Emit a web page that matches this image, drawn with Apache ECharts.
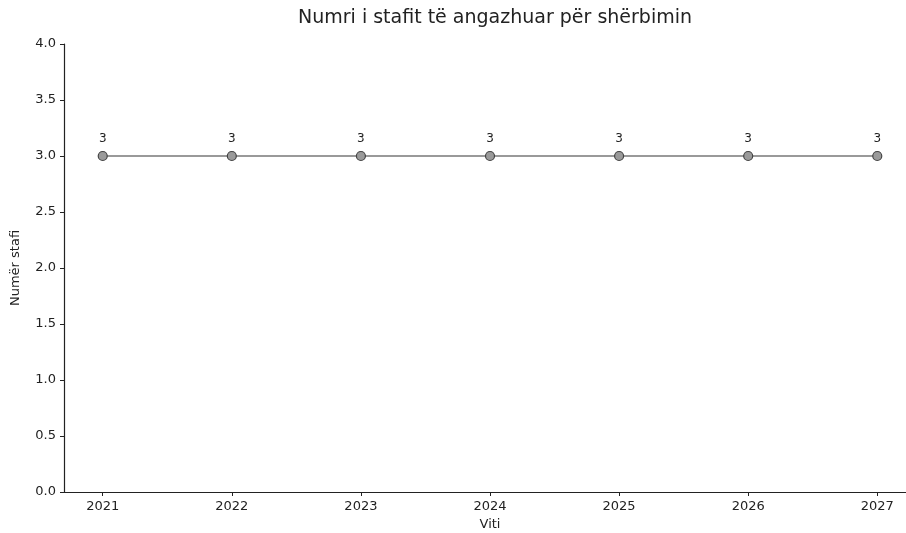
<!DOCTYPE html>
<html>
<head>
<meta charset="utf-8">
<script src="https://cdn.jsdelivr.net/npm/echarts@6/dist/echarts.min.js"></script>
<style>
  html, body { margin: 0; padding: 0; background: #fff; }
  #chart { width: 906px; height: 533px; }
</style>
</head>
<body>
<div id="chart"></div>
<script>
// te dhenat
const years = [2021, 2022, 2023, 2024, 2025, 2026, 2027]
const staff = [3, 3, 3, 3, 3, 3, 3]
const yTicks = [0, 0.5, 1, 1.5, 2, 2.5, 3, 3.5, 4]

const chart = echarts.init(document.getElementById('chart'))
const font = 'DejaVu Sans'

const option = {
    animation: false,
    backgroundColor: '#fff',
    title: {
        text: 'Numri i stafit të angazhuar për shërbimin',
        left: 490,
        textAlign: 'center',
        top: 4,
        textStyle: { fontFamily: font, fontSize: 19, fontWeight: 'normal', color: '#222' }
    },
    grid: { left: 64, right: -10, top: 44, bottom: 41, outerBoundsMode: 'none' },
    xAxis: {
        type: 'value',
        min: 2020.7,
        max: 2027.3,
        name: 'Viti',
        nameLocation: 'middle',
        nameGap: 25,
        nameTextStyle: { fontFamily: font, fontSize: 13, color: '#222' },
        axisLine: { lineStyle: { color: '#222', width: 1.2 } },
        axisTick: { show: true, length: 4, customValues: years, lineStyle: { color: '#222' } },
        axisLabel: {
            customValues: years, fontFamily: font, fontSize: 13, color: '#222', margin: 8,
            formatter: v => String(v)
        },
        splitLine: { show: false }
    },
    yAxis: {
        type: 'value',
        min: 0,
        max: 4,
        interval: 0.5,
        name: 'Numër stafi',
        nameLocation: 'middle',
        nameGap: 42,
        nameTextStyle: { fontFamily: font, fontSize: 13, color: '#222' },
        axisLine: { show: true, lineStyle: { color: '#222', width: 1.2 } },
        axisTick: { show: true, length: 4, lineStyle: { color: '#222' } },
        axisLabel: {
            customValues: yTicks,
            fontFamily: font, fontSize: 13, color: '#222', margin: 8,
            formatter: v => v.toFixed(1)
        },
        splitLine: { show: false }
    },
    series: [
        {
            type: 'line',
            data: years.map((y, i) => [y, staff[i]]),
            symbol: 'circle',
            symbolSize: 9,
            lineStyle: { color: '#999', width: 2 },
            itemStyle: { color: '#9a9a9a', borderColor: '#444', borderWidth: 1.2 },
            label: {
                show: true,
                position: 'top',
                distance: 6,
                formatter: p => p.value[1],
                fontFamily: font,
                fontSize: 12,
                color: '#222'
            }
        }
    ]
}
chart.setOption(option)
</script>
</body>
</html>
